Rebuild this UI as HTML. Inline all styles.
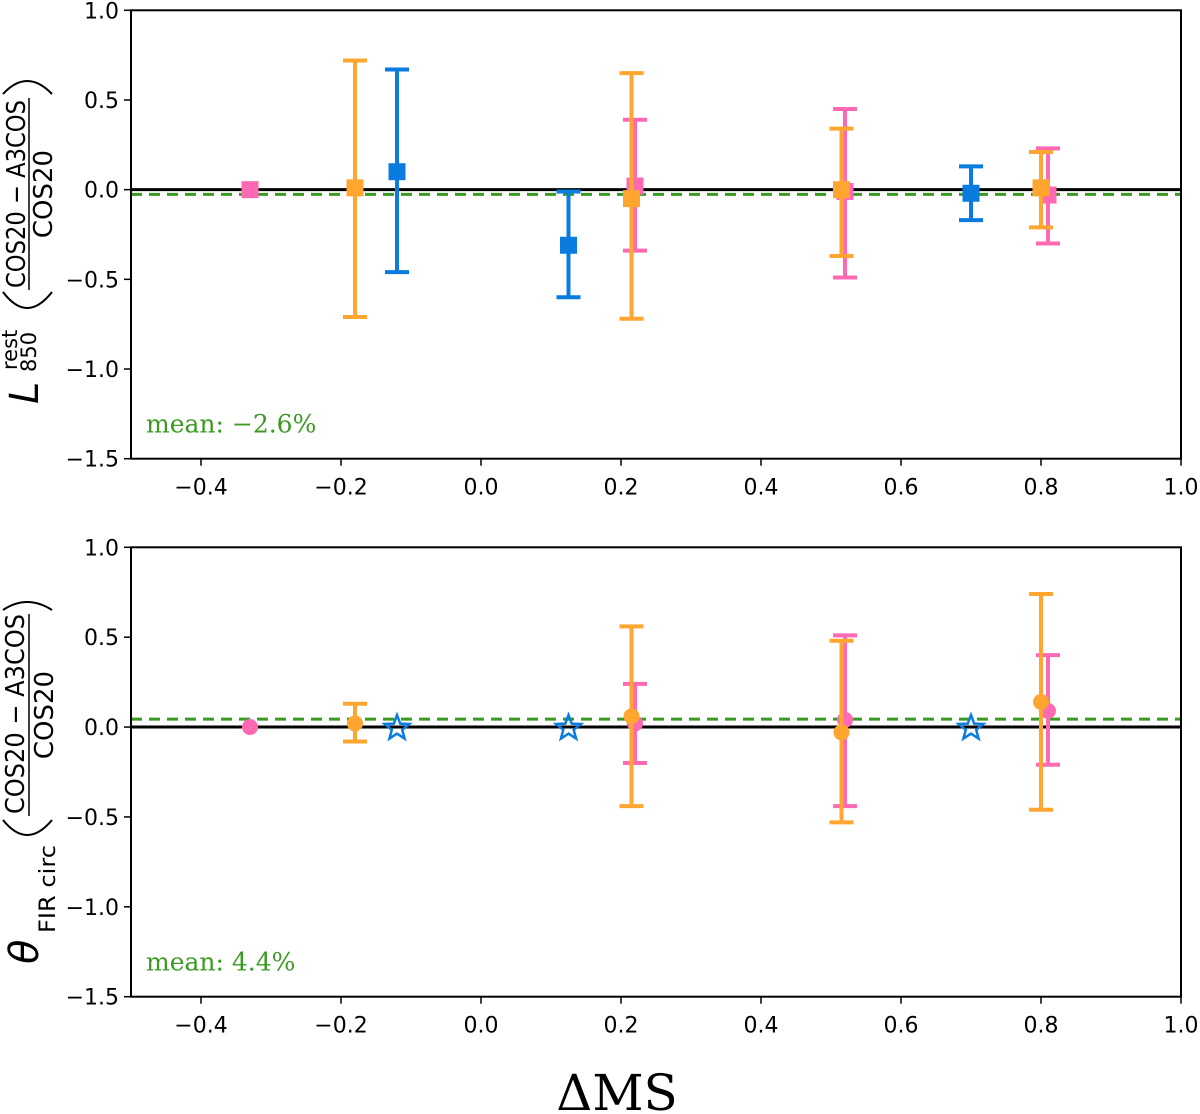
<!DOCTYPE html>
<html><head><meta charset="utf-8"><style>
html,body{margin:0;padding:0;background:#fff;}
svg{display:block;font-family:"DejaVu Sans","Liberation Sans",sans-serif;}
</style></head><body>
<svg id="fig" width="1200" height="1114" viewBox="0 0 1200 1114" xmlns="http://www.w3.org/2000/svg">
<g id="top"></g>
<g id="bot"></g>
<text x="617" y="1110" text-anchor="middle" font-family="'DejaVu Serif','Liberation Serif',serif" font-size="50">ΔMS</text>
</svg>
<script>
const xTicks = [-0.4,-0.2,0.0,0.2,0.4,0.6,0.8,1.0];
const yTicks = [1.0,0.5,0.0,-0.5,-1.0,-1.5];
// top panel data
const topX    = [-0.33,-0.18,-0.12,0.125,0.22,0.215,0.52,0.515,0.70,0.81,0.80];
const topY    = [0.0,0.01,0.10,-0.31,0.02,-0.05,-0.01,0.0,-0.02,-0.03,0.01];
const topHi   = [null,0.72,0.67,-0.01,0.39,0.65,0.45,0.34,0.13,0.23,0.21];
const topLo   = [null,-0.71,-0.46,-0.60,-0.34,-0.72,-0.49,-0.37,-0.17,-0.30,-0.21];
const topCol  = ['pink','orange','blue','blue','pink','orange','pink','orange','blue','pink','orange'];
const topMean = -0.026;
// bottom panel data
const botX    = [-0.33,-0.18,-0.12,0.125,0.70,0.22,0.215,0.52,0.515,0.81,0.80];
const botY    = [0.0,0.02,0.0,0.0,0.0,0.02,0.06,0.04,-0.03,0.09,0.14];
const botHi   = [null,0.13,null,null,null,0.24,0.56,0.51,0.48,0.40,0.74];
const botLo   = [null,-0.08,null,null,null,-0.20,-0.44,-0.44,-0.53,-0.21,-0.46];
const botCol  = ['pink','orange','star','star','star','pink','orange','pink','orange','pink','orange'];
const botMean = 0.044;

const C={pink:'#ff69b4',orange:'#ffa630',blue:'#0a7ce0',star:'#0a7ce0'};
const NS='http://www.w3.org/2000/svg';
const X0=131,X1=1181;
const sx=v=>X0+(v+0.5)/1.5*(X1-X0);
function mk(p,tag,attrs){const e=document.createElementNS(NS,tag);for(const k in attrs)e.setAttribute(k,attrs[k]);p.appendChild(e);return e;}
function fmt(v){return (v<0?'\u2212':'')+Math.abs(v).toFixed(1);}

function panel(g,top,bottom,xs,ys,his,los,cols,mean,marker,meanLabel){
  const sy=v=>top+(1-v)/2.5*(bottom-top);
  xTicks.forEach(t=>{
    const l=mk(g,'line',{x1:sx(t),x2:sx(t),y1:bottom,y2:bottom+7,stroke:'#000','stroke-width':1.5});
    
    
    const tx=mk(g,'text',{x:sx(t),y:bottom+36,'text-anchor':'middle','font-size':22});
    tx.textContent=fmt(t);
    
    
  });
  yTicks.forEach(t=>{
    const l=mk(g,'line',{x1:X0-7,x2:X0,y1:sy(t),y2:sy(t),stroke:'#000','stroke-width':1.5});
    
    
    const tx=mk(g,'text',{x:X0-12,y:sy(t)+8,'text-anchor':'end','font-size':22});
    tx.textContent=fmt(t);
    
    
  });
  const z=mk(g,'line',{x1:X0,x2:X1,y1:sy(0),y2:sy(0),stroke:'#000','stroke-width':3});
  
  
  const m=mk(g,'line',{x1:X0,x2:X1,y1:sy(mean),y2:sy(mean),stroke:'#3a9a22','stroke-width':3,'stroke-dasharray':'11,7'});
  
  
  xs.forEach((xv,i)=>{
    const c=C[cols[i]],px=sx(xv),py=sy(ys[i]);
    if(his[i]!==null){
      const e=mk(g,'g',{stroke:c,'stroke-width':4});
      
      
      mk(e,'line',{x1:px,x2:px,y1:sy(his[i]),y2:sy(los[i])});
      mk(e,'line',{x1:px-12,x2:px+12,y1:sy(his[i]),y2:sy(his[i])});
      mk(e,'line',{x1:px-12,x2:px+12,y1:sy(los[i]),y2:sy(los[i])});
    }
    let p;
    if(cols[i]==='star'){
      const pts=[];for(let k=0;k<10;k++){const r=k%2?5.5:13,a=-Math.PI/2+k*Math.PI/5;pts.push((px+r*Math.cos(a)).toFixed(1)+','+(py+1+r*Math.sin(a)).toFixed(1));}
      p=mk(g,'polygon',{points:pts.join(' '),fill:'none',stroke:c,'stroke-width':2.5});
    } else if(marker==='square'){
      p=mk(g,'rect',{x:px-8.5,y:py-8.5,width:17,height:17,fill:c});
    } else {
      p=mk(g,'circle',{cx:px,cy:py,r:8,fill:c});
    }
    
    
  });
  const f=mk(g,'rect',{x:X0,y:top,width:X1-X0,height:bottom-top,fill:'none',stroke:'#000','stroke-width':2});
  
  
  const ml=mk(g,'text',{x:146,y:bottom-26,fill:'#3a9a22','font-size':25,'font-family':"'DejaVu Serif','Liberation Serif',serif"});
  ml.textContent=meanLabel;
  
  
}
panel(document.getElementById('top'),10.3,458.7,topX,topY,topHi,topLo,topCol,topMean,'square','mean: \u22122.6%');
panel(document.getElementById('bot'),547.3,996.7,botX,botY,botHi,botLo,botCol,botMean,'circle','mean: 4.4%');

// y-axis titles (rotated group: text x = along axis (upward), text y = screen x)
const svg=document.getElementById('fig');
const yt=mk(svg,'g',{transform:'translate(0,240) rotate(-90)'});


mk(yt,'text',{x:-164,y:38,'font-size':40,'font-style':'italic'}).textContent='L';
mk(yt,'text',{x:-130,y:17,'font-size':21}).textContent='rest';
mk(yt,'text',{x:-132,y:36,'font-size':21}).textContent='850';
mk(yt,'text',{x:-48,y:25,'font-size':26,textLength:188,lengthAdjust:'spacingAndGlyphs'}).textContent='COS20 \u2212 A3COS';
mk(yt,'line',{x1:-50,x2:142,y1:29,y2:29,stroke:'#000','stroke-width':1.5});
mk(yt,'text',{x:46,y:52,'font-size':26,'text-anchor':'middle'}).textContent='COS20';
mk(yt,'path',{d:'M -52 3 Q -84 27 -52 52',fill:'none',stroke:'#000','stroke-width':2});
mk(yt,'path',{d:'M 146 3 Q 172 27 146 52',fill:'none',stroke:'#000','stroke-width':2});

const yb=mk(svg,'g',{transform:'translate(0,780) rotate(-90)'});


mk(yb,'text',{x:-184,y:38,'font-size':40,'font-style':'italic'}).textContent='\u03b8';
mk(yb,'text',{x:-153,y:55,'font-size':22,textLength:88,lengthAdjust:'spacingAndGlyphs'}).textContent='FIR circ';
mk(yb,'text',{x:-34,y:24,'font-size':26,textLength:200,lengthAdjust:'spacingAndGlyphs'}).textContent='COS20 \u2212 A3COS';
mk(yb,'line',{x1:-36,x2:166,y1:29,y2:29,stroke:'#000','stroke-width':1.5});
mk(yb,'text',{x:65,y:53,'font-size':26,'text-anchor':'middle'}).textContent='COS20';
mk(yb,'path',{d:'M -40 3 Q -70 27 -40 52',fill:'none',stroke:'#000','stroke-width':2});
mk(yb,'path',{d:'M 170 3 Q 186 27 170 52',fill:'none',stroke:'#000','stroke-width':2});
</script>
</body></html>
